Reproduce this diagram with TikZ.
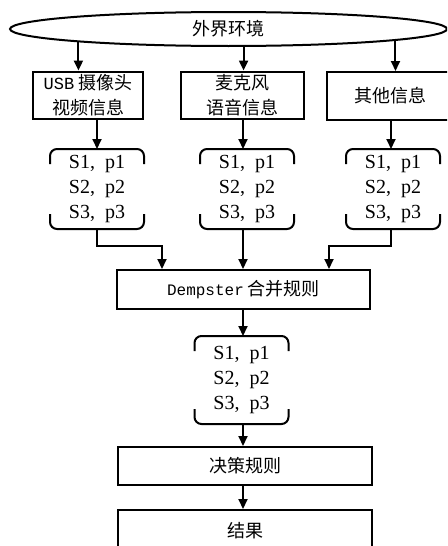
\documentclass[tikz,border=0pt]{standalone}
\usepackage{fontspec}
\setmainfont{Liberation Serif}
\newfontfamily\cjk{Noto Sans CJK SC}
\newfontfamily\mono{Liberation Mono}
\usetikzlibrary{arrows.meta,shapes.geometric}
\tikzset{
  arr/.style={-{Triangle[length=10pt,width=9pt]}},
  rbox/.style={draw,rectangle,inner sep=0pt,align=center},
  sbox/.style={inner sep=0pt,minimum width=92pt,align=center,font=\fontsize{20}{25}\selectfont},
  ctext/.style={font=\cjk\fontsize{18}{25}\selectfont},
}
\newcommand\bracedraw[1]{%
  \draw[rounded corners=7pt] ([yshift=-15pt]#1.north west) |- (#1.north east) -- ([yshift=-15pt]#1.north east);
  \draw[rounded corners=7pt] ([yshift=15pt]#1.south west) |- (#1.south east) -- ([yshift=15pt]#1.south east);}
\begin{document}
\begin{tikzpicture}[x=1pt,y=-1pt,line width=2pt]
\useasboundingbox (0,0) rectangle (447,546);
\clip (0,0) rectangle (447,546);
\coordinate (c1) at (97,0);
\coordinate (c2) at (243,0);
\coordinate (c3) at (391,0);
\coordinate (j) at (0,246);
\node[draw,ellipse,inner sep=0pt,minimum width=437pt,minimum height=34pt,ctext] (env) at (228.5,29) {外界环境};
\node[rbox,minimum width=110pt,minimum height=47pt,ctext] (box1) at (88,95) {{\mono\fontsize{17}{25}\selectfont USB} 摄像头\\视频信息};
\node[rbox,minimum width=123pt,minimum height=47pt,ctext] (box2) at (242.5,95) {麦克风\\语音信息};
\node[rbox,minimum width=126pt,minimum height=48pt,ctext] (box3) at (390,96) {其他信息};
\node[sbox,minimum height=78pt] (b1) at (97,189) {S1,~~p1\\S2,~~p2\\S3,~~p3};
\node[sbox,minimum height=78pt] (b2) at (247,189) {S1,~~p1\\S2,~~p2\\S3,~~p3};
\node[sbox,minimum height=78pt] (b3) at (393,189) {S1,~~p1\\S2,~~p2\\S3,~~p3};
\bracedraw{b1}\bracedraw{b2}\bracedraw{b3}
\node[rbox,minimum width=253pt,minimum height=39pt,ctext] (dem) at (243.5,289.5) {{\mono\fontsize{16}{25}\selectfont Dempster} 合并规则};
\node[sbox,minimum height=86pt] (b4) at (241.5,380) {S1,~~p1\\S2,~~p2\\S3,~~p3};
\bracedraw{b4}
\node[rbox,minimum width=254pt,minimum height=38pt,ctext] (dec) at (245,466) {\raisebox{3pt}{决策规则}};
\node[rbox,minimum width=254pt,minimum height=44pt,ctext] (res) at (245,532) {\raisebox{5pt}{结果}};
% arrows from environment
\draw[arr] (env.185.9) -- (env.185.9 |- box1.north);
\draw[arr] (env.310.5) -- (env.310.5 |- box2.north);
\draw[arr] (env.356) -- (env.356 |- box3.north);
% boxes to evidence
\draw[arr] (box1.south -| c1) -- (b1.north -| c1);
\draw[arr] (box2.south -| c2) -- (b2.north -| c2);
\draw[arr] (box3.south -| c3) -- (b3.north -| c3);
% evidence to Dempster
\draw[arr] (b1.south -| c1) -- (c1 |- j) -| ([xshift=-81.5pt]dem.north);
\draw[arr] (b2.south -| c2) -- (dem.north -| c2);
\draw[arr] (b3.south -| c3) -- (c3 |- j) -| ([xshift=85.5pt]dem.north);
% lower chain
\draw[arr] (dem.south -| c2) -- (b4.north -| c2);
\draw[arr] (b4.south -| c2) -- (dec.north -| c2);
\draw[arr] (dec.south -| c2) -- (res.north -| c2);
\end{tikzpicture}
\end{document}
